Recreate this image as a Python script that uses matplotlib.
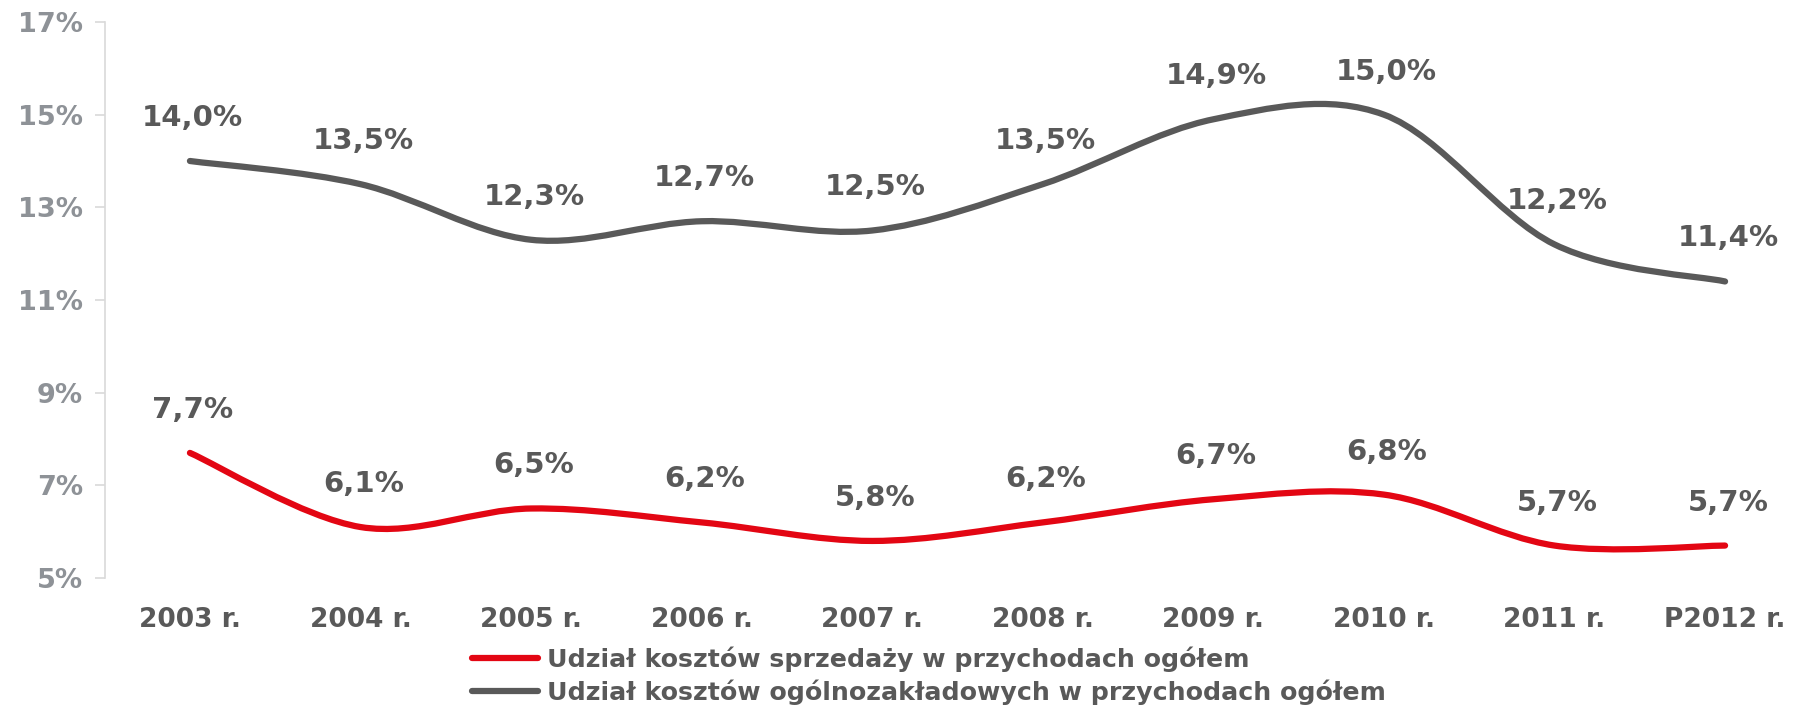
import matplotlib
matplotlib.use("Agg")
from matplotlib import pyplot as plt
from matplotlib.path import Path
from matplotlib.patches import PathPatch
from matplotlib.lines import Line2D

years = ["2003 r.", "2004 r.", "2005 r.", "2006 r.", "2007 r.", "2008 r.",
         "2009 r.", "2010 r.", "2011 r.", "P2012 r."]
sprzedaz = [7.7, 6.1, 6.5, 6.2, 5.8, 6.2, 6.7, 6.8, 5.7, 5.7]
ogolne = [14.0, 13.5, 12.3, 12.7, 12.5, 13.5, 14.9, 15.0, 12.2, 11.4]
names = ["Udział kosztów sprzedaży w przychodach ogółem",
         "Udział kosztów ogólnozakładowych w przychodach ogółem"]
colors = ["#e30613", "#595959"]

TXT = "#595959"
plt.rcParams["font.family"] = "DejaVu Sans"
plt.rcParams["font.weight"] = "bold"


def smooth_path(ys):
    # Excel-style smoothed line: Catmull-Rom segments as cubic Bezier curves
    pts = list(enumerate(ys))
    n = len(pts)
    verts = [pts[0]]
    codes = [Path.MOVETO]
    for i in range(n - 1):
        p0 = pts[max(i - 1, 0)]
        p1 = pts[i]
        p2 = pts[i + 1]
        p3 = pts[min(i + 2, n - 1)]
        c1 = (p1[0] + (p2[0] - p0[0]) / 6, p1[1] + (p2[1] - p0[1]) / 6)
        c2 = (p2[0] - (p3[0] - p1[0]) / 6, p2[1] - (p3[1] - p1[1]) / 6)
        verts += [c1, c2, p2]
        codes += [Path.CURVE4] * 3
    return Path(verts, codes)


fig = plt.figure(figsize=(17.95, 7.09), dpi=100)
ax = fig.add_axes([105 / 1795, 131 / 709, 1 - 105 / 1795, 556 / 709])

for vals, col in zip([sprzedaz, ogolne], colors):
    ax.add_patch(PathPatch(smooth_path(vals), fill=False, edgecolor=col,
                           lw=4.5, capstyle="round", joinstyle="round"))
    for i, v in enumerate(vals):
        ax.annotate(f"{v:.1f}%".replace(".", ","), (i, v), xytext=(2, 31),
                    textcoords="offset points", ha="center", va="center",
                    fontsize=21, color=TXT, fontweight="bold")

ax.set_xlim(-0.498, 9.41)
ax.set_ylim(5, 17)
ax.set_yticks(range(5, 18, 2))
ax.set_yticklabels([f"{t}%" for t in range(5, 18, 2)])
ax.set_xticks(range(len(years)))
ax.set_xticklabels(years)

for s in ["top", "right", "bottom"]:
    ax.spines[s].set_visible(False)
ax.spines["left"].set_color("#d9d9d9")
ax.spines["left"].set_linewidth(1.2)
ax.tick_params(axis="y", length=7, width=1.2, color="#d9d9d9", pad=9,
               labelsize=19.5, labelcolor="#8e9297")
ax.tick_params(axis="x", length=0, pad=21, labelsize=19, labelcolor=TXT)
for lab in ax.get_xticklabels() + ax.get_yticklabels():
    lab.set_fontweight("bold")

handles = [Line2D([], [], color=c, lw=4.5, solid_capstyle="round") for c in colors]
fig.legend(handles, names, loc="center left",
           bbox_to_anchor=(472 / 1795, 1 - 676 / 709), frameon=False,
           labelcolor=TXT, handlelength=2.6, handletextpad=0.35,
           labelspacing=0.3, borderpad=0, borderaxespad=0,
           prop={"weight": "bold", "size": 18.2})

fig.savefig("out.png", dpi=100)
